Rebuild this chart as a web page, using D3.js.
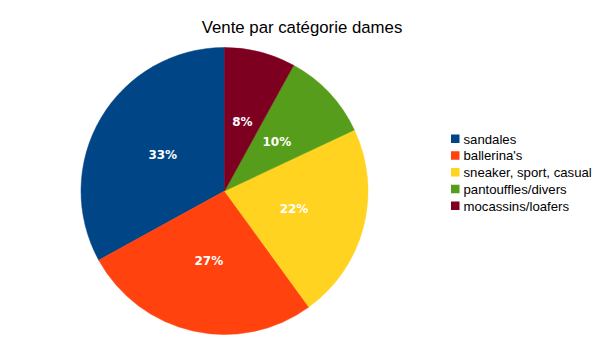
<!DOCTYPE html>
<html>
<head>
<meta charset="utf-8">
<script src="https://cdn.jsdelivr.net/npm/d3@7"></script>
<style>
	body { margin: 0; background: #fff; }
</style>
</head>
<body>
<div id="chart"></div>
<script>
var categories = ["sandales", "ballerina's", "sneaker, sport, casual", "pantouffles/divers", "mocassins/loafers"];
var values = [33, 27, 22, 10, 8];
var colors = ["#004586", "#ff420e", "#ffd320", "#579d1c", "#7e0021"];
var title = "Vente par catégorie dames";

var width = 605, height = 340;
var cx = 224.5, cy = 191, radius = 143.5;

var svg = d3.select("#chart")
	.append("svg")
	.attr("width", width)
	.attr("height", height);

svg.append("text")
	.attr("x", 302)
	.attr("y", 33)
	.attr("text-anchor", "middle")
	.style("font-family", "'Liberation Sans', Arial, sans-serif")
	.style("font-size", "16.8px")
	.attr("fill", "#000")
	.text(title);

var pie = d3.pie()
	.sort(null)
	.startAngle(0)
	.endAngle(-2 * Math.PI);

var arc = d3.arc().innerRadius(0).outerRadius(radius);
var labelArc = d3.arc().innerRadius(radius * 0.5).outerRadius(radius * 0.5);

var color = d3.scaleOrdinal().domain(categories).range(colors);

var slices = pie(values);
var g = svg.append("g").attr("transform", "translate(" + cx + "," + cy + ")");

g.selectAll("path")
	.data(slices)
	.enter()
	.append("path")
	.attr("d", arc)
	.attr("fill", function (d, i) { return color(categories[i]); })
	.attr("stroke", function (d, i) { return color(categories[i]); })
	.attr("stroke-width", 0.5);

var total = d3.sum(values);
g.selectAll("text")
	.data(slices)
	.enter()
	.append("text")
	.attr("transform", function (d) { return "translate(" + labelArc.centroid(d) + ")"; })
	.attr("text-anchor", "middle")
	.attr("dy", "0.36em")
	.style("font-family", "'DejaVu Sans', sans-serif")
	.style("font-weight", "bold")
	.style("font-size", "12px")
	.attr("fill", "#fff")
	.text(function (d) { return Math.round(d.data / total * 100) + "%"; });

var legend = svg.append("g").attr("transform", "translate(451,134.5)");
var rowH = 16.75;
var rows = legend.selectAll("g")
	.data(categories)
	.enter()
	.append("g")
	.attr("transform", function (d, i) { return "translate(0," + (i * rowH) + ")"; });

rows.append("rect")
	.attr("width", 8.5)
	.attr("height", 8.5)
	.attr("fill", function (d) { return color(d); });

rows.append("text")
	.attr("x", 12.5)
	.attr("y", 9)
	.style("font-family", "'Liberation Sans', Arial, sans-serif")
	.style("font-size", "13.2px")
	.attr("fill", "#000")
	.text(function (d) { return d; });
</script>
</body>
</html>
